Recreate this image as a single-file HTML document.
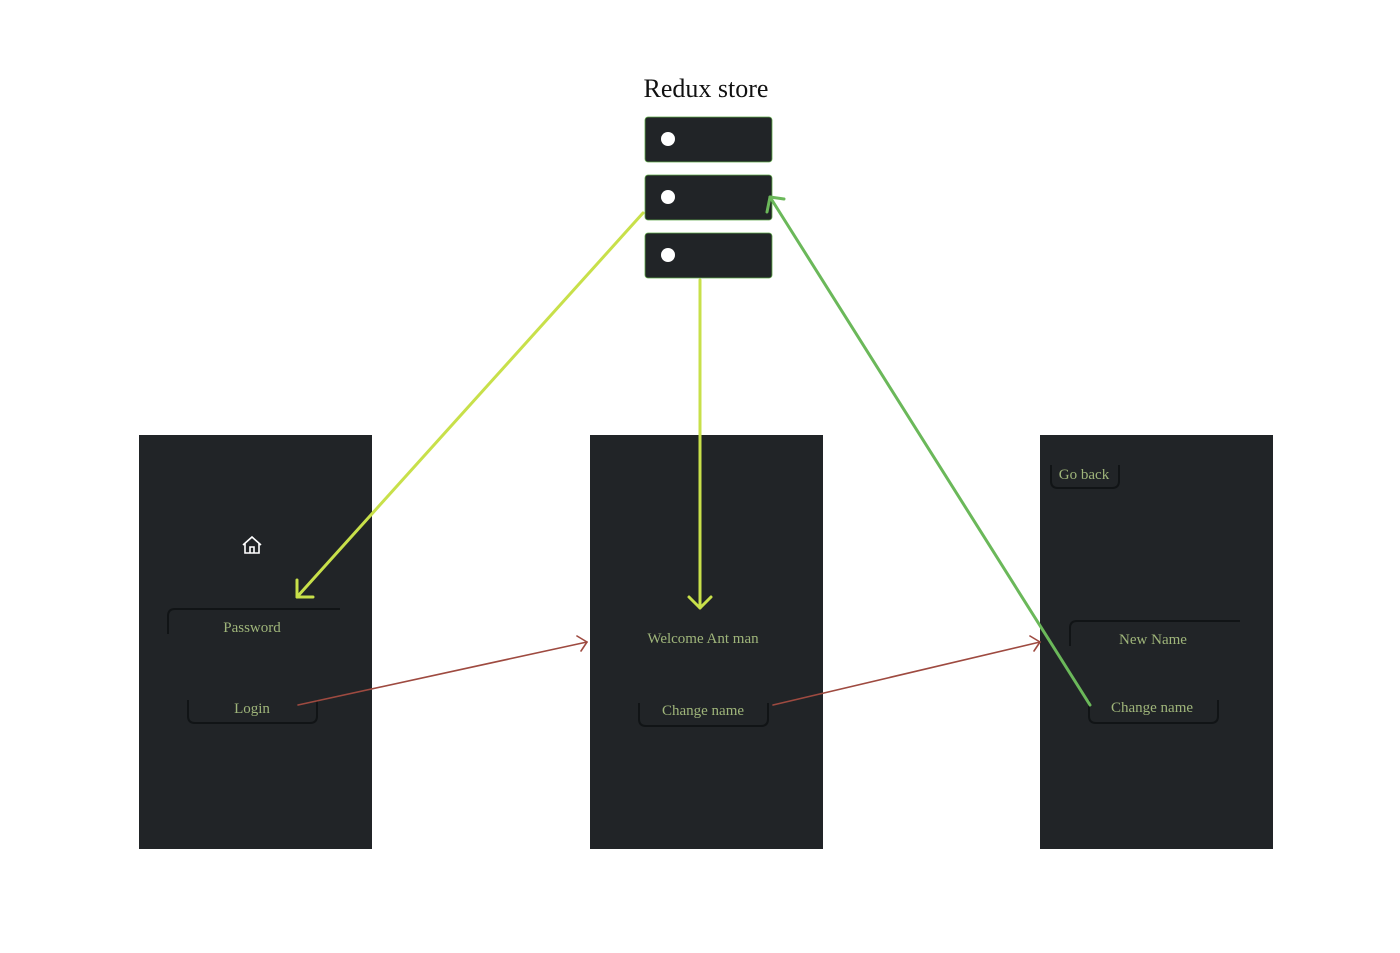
<!DOCTYPE html>
<html><head><meta charset="utf-8"><style>
html,body{margin:0;padding:0;background:#fff;width:1400px;height:953px;overflow:hidden}
svg text{font-family:"Liberation Serif","DejaVu Serif",serif}
</style></head><body>
<svg width="1400" height="953" viewBox="0 0 1400 953" xmlns="http://www.w3.org/2000/svg">
<text x="706" y="97" font-size="26" text-anchor="middle" fill="#111">Redux store</text>
<g fill="#212427" stroke="#5fa84a" stroke-width="0.8">
<rect x="645" y="117" width="127" height="45" rx="3"/>
<rect x="645" y="175" width="127" height="45" rx="3"/>
<rect x="645" y="233" width="127" height="45" rx="3"/>
</g>
<g fill="#fff"><circle cx="668" cy="139" r="7"/><circle cx="668" cy="197" r="7"/><circle cx="668" cy="255" r="7"/></g>

<g fill="#212427">
<rect x="139" y="435" width="233" height="414"/>
<rect x="590" y="435" width="233" height="414"/>
<rect x="1040" y="435" width="233" height="414"/>
</g>

<g fill="none" stroke="#111416" stroke-width="2">
<path d="M340 609 H175 q-7 0 -7 7 V634"/>
<path d="M188 700 V716 q0 7 7 7 H310 q7 0 7 -7 V700"/>
<path d="M639 703 V719 q0 7 7 7 H761 q7 0 7 -7 V703"/>
<path d="M1051 465 V481 q0 7 7 7 H1112 q7 0 7 -7 V465"/>
<path d="M1240 621 H1077 q-7 0 -7 7 V646"/>
<path d="M1089 700 V716 q0 7 7 7 H1211 q7 0 7 -7 V700"/>
</g>
<g fill="none" stroke="#fff" stroke-width="1.6">
<path d="M243 545 L252 537 L261 545 M245 543 V553 H259 V543 M250 553 V547 H254 V553"/>
</g>
<g font-size="15" fill="#9fb57a" text-anchor="middle">
<text x="252" y="632">Password</text>
<text x="252" y="713">Login</text>
<text x="703" y="643">Welcome Ant man</text>
<text x="703" y="715">Change name</text>
<text x="1084" y="479">Go back</text>
<text x="1153" y="644">New Name</text>
<text x="1152" y="712">Change name</text>
</g>

<g fill="none" stroke-linecap="round" stroke-linejoin="round">
<g stroke="#c8e04a" stroke-width="3">
<path d="M643 213 L297 597"/>
<path d="M297 580 L297 597 L313 597"/>
<path d="M700 280 L700 608"/>
<path d="M689 597 L700 608 L711 597"/>
</g>
<g stroke="#6bb85a" stroke-width="3">
<path d="M1090 705 L770 197"/>
<path d="M767 212 L770 197 L784 199"/>
</g>
<g stroke="#9e4a40" stroke-width="1.6">
<path d="M298 705 L587 642"/>
<path d="M577 636 L587 642 L581 651"/>
<path d="M773 705 L1040 642"/>
<path d="M1030 636 L1040 642 L1034 651"/>
</g>
</g>
</svg>
</body></html>
